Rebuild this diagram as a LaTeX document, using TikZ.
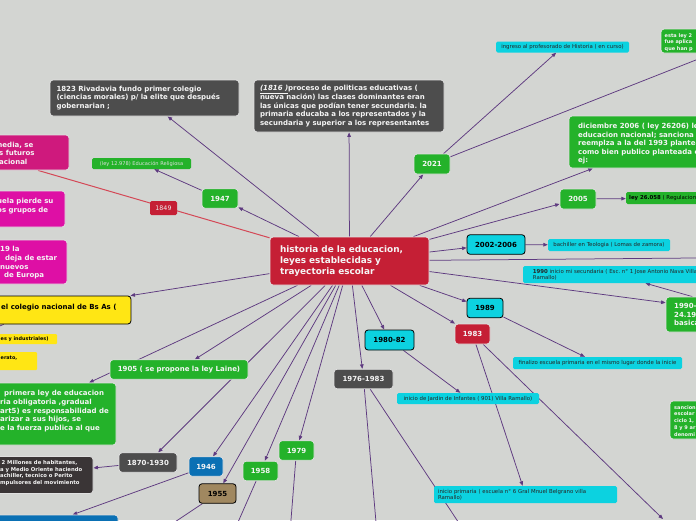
\documentclass[tikz,border=0pt]{standalone}
\usepackage{fontspec}
\setmainfont{DejaVu Sans}
\usetikzlibrary{arrows.meta}
\pgfdeclarelayer{bg}
\pgfsetlayers{bg,main}
\frenchspacing
\definecolor{cBg}{RGB}{211,213,210}
\definecolor{cGr}{RGB}{36,178,42}
\definecolor{cDk}{RGB}{77,77,77}
\definecolor{cRd}{RGB}{197,31,53}
\definecolor{cCy}{RGB}{12,210,224}
\definecolor{cMgA}{RGB}{207,25,125}
\definecolor{cMgB}{RGB}{222,15,165}
\definecolor{cYl}{RGB}{255,230,20}
\definecolor{cBl}{RGB}{10,112,180}
\definecolor{cBr}{RGB}{160,136,96}
\definecolor{cPl}{RGB}{94,58,128}
\definecolor{cRl}{RGB}{212,72,86}
\definecolor{cDkb}{RGB}{58,53,54}
\newcommand\myfC{\fontsize{8.9}{10.8}\selectfont\bfseries}
\newcommand\myfM{\fontsize{7}{8.6}\selectfont\bfseries}
\newcommand\myfY{\fontsize{7}{8.5}\selectfont\bfseries}
\newcommand\myfS{\fontsize{5.4}{6.1}\selectfont}
\newcommand\myfSb{\fontsize{4.9}{6}\selectfont\bfseries}
\newcommand\myfT{\fontsize{5}{6.7}\selectfont\bfseries}
\newcommand\myfD{\fontsize{5.3}{6.8}\selectfont\bfseries}
\tikzset{
 box/.style={rounded corners=3pt, draw=white!88!black, line width=0.8pt, inner sep=0pt, text=white!96!black},
 yr/.style={box, minimum height=19.5pt, font=\myfY},
 cyy/.style={yr, fill=cCy, draw=black, text=black},
 lbl/.style={rounded corners=1.5pt, inner sep=0pt, font=\myfS, text=black!85, fill=cCy},
 txt/.style={anchor=north west, inner sep=0pt, align=left, text=white!96!black},
 conn/.style={draw=cPl, line width=0.75pt, -{Triangle[length=4.5pt,width=3.6pt]}},
}
\begin{document}
\begin{tikzpicture}[x=1pt,y=-1pt]
\useasboundingbox (0,0) rectangle (696,520);
\begin{pgfonlayer}{bg}
\fill[cBg] (0,0) rectangle (696,520);
\end{pgfonlayer}
\clip (0,0) rectangle (696,520);

% central
\node[box, fill=cRd, minimum width=159pt, minimum height=48pt, text width=139pt, align=left, font=\myfC] (c) at (349.5,261) {historia de la educacion,\\ leyes establecidas y\\ trayectoria escolar};

% top boxes
\node[box, fill=cDk, minimum width=189pt, minimum height=36pt, text width=176pt, align=left, font=\myfM] (n1823) at (144.5,98) {1823 Rivadavia fundo primer colegio\\ (ciencias morales) p/ la elite que después\\ gobernarian ;};
\node[box, fill=cDk, minimum width=190pt, minimum height=52pt, text width=178pt, align=left, font=\fontsize{7}{8.5}\selectfont\bfseries] (n1816) at (349,106) {\underline{\textit{(1816 )}}proceso de politicas educativas (\\ nueva nación) las clases dominantes eran\\ las únicas que podían tener secundaria. la\\ primaria educaba a los representados y la\\ secundaria y superior a los representantes};

% left cut boxes
\node[box, fill=cMgA, minimum width=185pt, minimum height=35pt] (mA) at (-23.5,152.5) {};
\node[txt, font=\myfM] (mAt) at (-1,141.6) {\hspace*{-4pt}media, se\\ s futuros\\ acional};
\node[box, fill=cMgB, minimum width=130pt, minimum height=36pt] (mB) at (0,209) {};
\node[txt, font=\myfM] (mBt) at (-3,198) {uela pierde su\\ os grupos de};
\node[box, fill=cMgB, minimum width=134pt, minimum height=44pt] (mC) at (0,262) {};
\node[txt, font=\myfM] (mCt) at (0,246.3) {19 la\\ \hspace*{5pt}deja de estar\\ nuevos\\ \hspace*{4pt}de Europa};
\node[box, fill=cYl, draw=black, minimum width=183pt, minimum height=28pt] (yY) at (39.4,310) {};
\node[txt, font=\myfM, text=black] (yYt) at (1,304.3) {el colegio nacional de Bs As (};
\node[fill=cYl, minimum width=117pt, minimum height=10pt, inner sep=0pt, rounded corners=1pt] (yS1) at (-1.5,339) {};
\node[anchor=west, inner sep=0pt, font=\myfSb, text=black] (yS1t) at (0.5,339.5) {es y industriales)};
\node[fill=cYl, minimum width=97pt, minimum height=18pt, inner sep=0pt, rounded corners=1pt] (yS2) at (-11.5,361) {};
\node[anchor=west, inner sep=0pt, font=\myfSb, text=black] (yS2t) at (0.5,358) {erato,};
\node[yr, fill=cGr, minimum width=138pt] (n1905) at (179,369.5) {1905 ( se propone la ley Laine)};
\node[box, fill=cGr, minimum width=188pt, minimum height=62pt] (gB) at (22,414) {};
\node[txt, font=\myfM] (gBt) at (0,390.3) {\hspace*{4pt}primera ley de educacion\\ ria obligatoria ,gradual\\ art5) es responsabilidad de\\ arizar a sus hijos, se\\ e la fuerza publica al que};
\node[yr, fill=cDk, minimum width=58pt] (n1870) at (148,462.5) {1870-1930};
\node[box, fill=cDkb, minimum width=140pt, minimum height=37pt] (dB) at (23,475) {};
\node[txt, font=\myfD] (dBt) at (0,460) {\hspace*{1.5pt}2 Millones de habitantes,\\ a y Medio Oriente haciendo\\ achiller, tecnico o Perito\\ mpulsores del movimiento};
\node[box, fill=cBl, minimum width=176pt, minimum height=30pt] (bB) at (30,530) {};

% years bottom
\node[yr, fill=cBl, minimum width=34pt] (n1946) at (206,466.5) {1946};
\node[yr, fill=cBr, draw=black, text=black, minimum width=37pt] (n1955) at (217.5,493.5) {1955};
\node[yr, fill=cGr, minimum width=35pt] (n1958) at (260.5,471) {1958};
\node[yr, fill=cGr, minimum width=35pt] (n1979) at (296.5,450.5) {1979};
\node[yr, fill=cDk, minimum width=59pt] (n7683) at (363.5,379) {1976-1983};
\node[cyy, minimum width=49pt, minimum height=20pt] (n8082) at (389.5,340) {1980-82};
\node[lbl, minimum width=142pt, minimum height=11pt] (jar) at (468,398.5) {inicio de Jardin de Infantes ( 901) Villa Ramallo)};
\node[yr, fill=cRd, minimum width=35pt, minimum height=20pt] (n1983) at (472.5,334) {1983};
\node[cyy, minimum width=36pt] (n1989) at (485,308) {1989};
\node[lbl, minimum width=169pt, minimum height=12pt] (fin) at (597.5,363) {finalizo escuela primaria en el mismo lugar donde la inicie};
\node[lbl, minimum width=183pt, minimum height=17pt, align=left, text width=175pt] (pri) at (525.5,494.5) {inicio primaria ( escuela n° 6 Gral Mnuel Belgrano villa\\ Ramallo)};

% right side
\node[box, fill=cGr, minimum width=180pt, minimum height=38pt] (sG) at (760,420) {};
\node[txt, font=\myfT] (sGt) at (674,405.2) {sancion\\ escolar\\ ciclo 1,\\ 8 y 9 ar\\ denomi};
\node[box, fill=cGr, minimum width=178pt, minimum height=35pt] (gG) at (755,314.5) {};
\node[txt, font=\myfM] (gGt) at (674,303.3) {1990-\\ 24.19\\ basica};
\node[lbl, minimum width=184pt, minimum height=17pt, align=left] (c90) at (615,274.5) {\textbf{1990} inicio mi secundaria ( Esc. n° 1 Jose Antonio Nava Villa\\ Ramallo)};
\node[cyy, minimum width=58pt] (n0206) at (496,244.5) {2002-2006};
\node[lbl, minimum width=122pt, minimum height=12pt] (bac) at (609,245) {bachiller en Teologia ( Lomas de zamora)};
\node[yr, fill=cGr, minimum width=36pt, minimum height=20pt] (n2005) at (578,199) {2005};
\node[fill=cGr, minimum width=140pt, minimum height=12pt, inner sep=0pt, rounded corners=1.5pt] (lG) at (696,198) {};
\node[anchor=west, inner sep=0pt, font=\myfS, text=black] (lGt) at (629,198.5) {\textbf{ley 26.058} ( Regulacion};
\node[box, fill=cGr, minimum width=186pt, minimum height=52pt] (dG) at (662,142) {};
\node[txt, font=\fontsize{7}{8.5}\selectfont\bfseries] (dGt) at (578,123) {diciembre 2006 ( ley 26206) le\\ educacion nacional; sanciona\\ reemplza a la del 1993 plantea\\ como bien publico planteada c\\ ej:};
\node[yr, fill=cGr, minimum width=36pt, minimum height=20pt] (n2021) at (432,164) {2021};
\node[lbl, minimum width=133pt, minimum height=11pt] (ing) at (562.5,47) {ingreso al profesorado de Historia ( en curso)};
\node[box, fill=cGr, minimum width=178pt, minimum height=24pt] (eG) at (750,41) {};
\node[txt, font=\myfT] (eGt) at (664.5,33) {esta ley 2\\ fue aplica\\ que han p};

% upper left small
\node[fill=cGr, rounded corners=1.5pt, inner sep=0pt, minimum width=99pt, minimum height=11pt, font=\fontsize{5.1}{6}\selectfont, text=white!88!black] (l12) at (141.5,163.5) {(ley 12.978) Educación Religiosa};
\node[yr, fill=cGr, minimum width=36pt] (n1947) at (220,198.5) {1947};
\node[fill=cRd, rounded corners=1.5pt, inner sep=0pt, minimum width=27pt, minimum height=14pt, font=\fontsize{6.3}{7}\selectfont, text=white!92!black] (l1849) at (163.5,208) {1849};

% off-canvas ends
\coordinate (oY) at (-40,342);
\coordinate (o55) at (148,540);
\coordinate (o58) at (228,545);
\coordinate (o79) at (289,545);
\coordinate (o76a) at (378,545);
\coordinate (o76b) at (473.5,545);
\coordinate (o1983) at (663,519);
\coordinate (oR) at (740,257.6);
\coordinate (o2021) at (740,42.6);

\begin{pgfonlayer}{bg}
\clip (0,0) rectangle (696,520);
\draw[cRl, line width=1pt] (c) -- (mA);
\draw[conn] (c) -- (n1823);
\draw[conn] (c) -- (n1816);
\draw[conn] (c) -- (n1947);
\draw[conn] (n1947) -- (l12);
\draw[conn] (c) -- (yY);
\draw[conn] (yY) -- (oY);
\draw[conn] (c) -- (gB);
\draw[conn] (c) -- (n1905);
\draw[conn] (c) -- (n1870);
\draw[conn] (n1870) -- (dB);
\draw[conn] (c) -- (n1946);
\draw[conn] (n1946) -- (bB);
\draw[conn] (c) -- (n1955);
\draw[conn] (n1955) -- (o55);
\draw[conn] (c) -- (n1958);
\draw[conn] (n1958) -- (o58);
\draw[conn] (c) -- (n1979);
\draw[conn] (n1979) -- (o79);
\draw[conn] (c) -- (n7683);
\draw[conn] (n7683) -- (o76a);
\draw[conn] (n7683) -- (o76b);
\draw[conn] (c) -- (n8082);
\draw[conn] (n8082) -- (jar);
\draw[conn] (c) -- (n1983);
\draw[conn] (n1983) -- (pri);
\draw[conn] (n1983) -- (o1983);
\draw[conn] (c) -- (n1989);
\draw[conn] (n1989) -- (fin);
\draw[conn] (c) -- (gG);
\draw[conn] (gG) -- (c90);
\draw[conn] (c) -- (oR);
\draw[conn] (c) -- (n0206);
\draw[conn] (n0206) -- (bac);
\draw[conn] (c) -- (n2005);
\draw[conn] (n2005) -- (lG);
\draw[conn] (c) -- (dG);
\draw[conn] (c) -- (n2021);
\draw[conn] (n2021) -- (ing);
\draw[conn] (n2021) -- (o2021);
\end{pgfonlayer}
\end{tikzpicture}
\end{document}
